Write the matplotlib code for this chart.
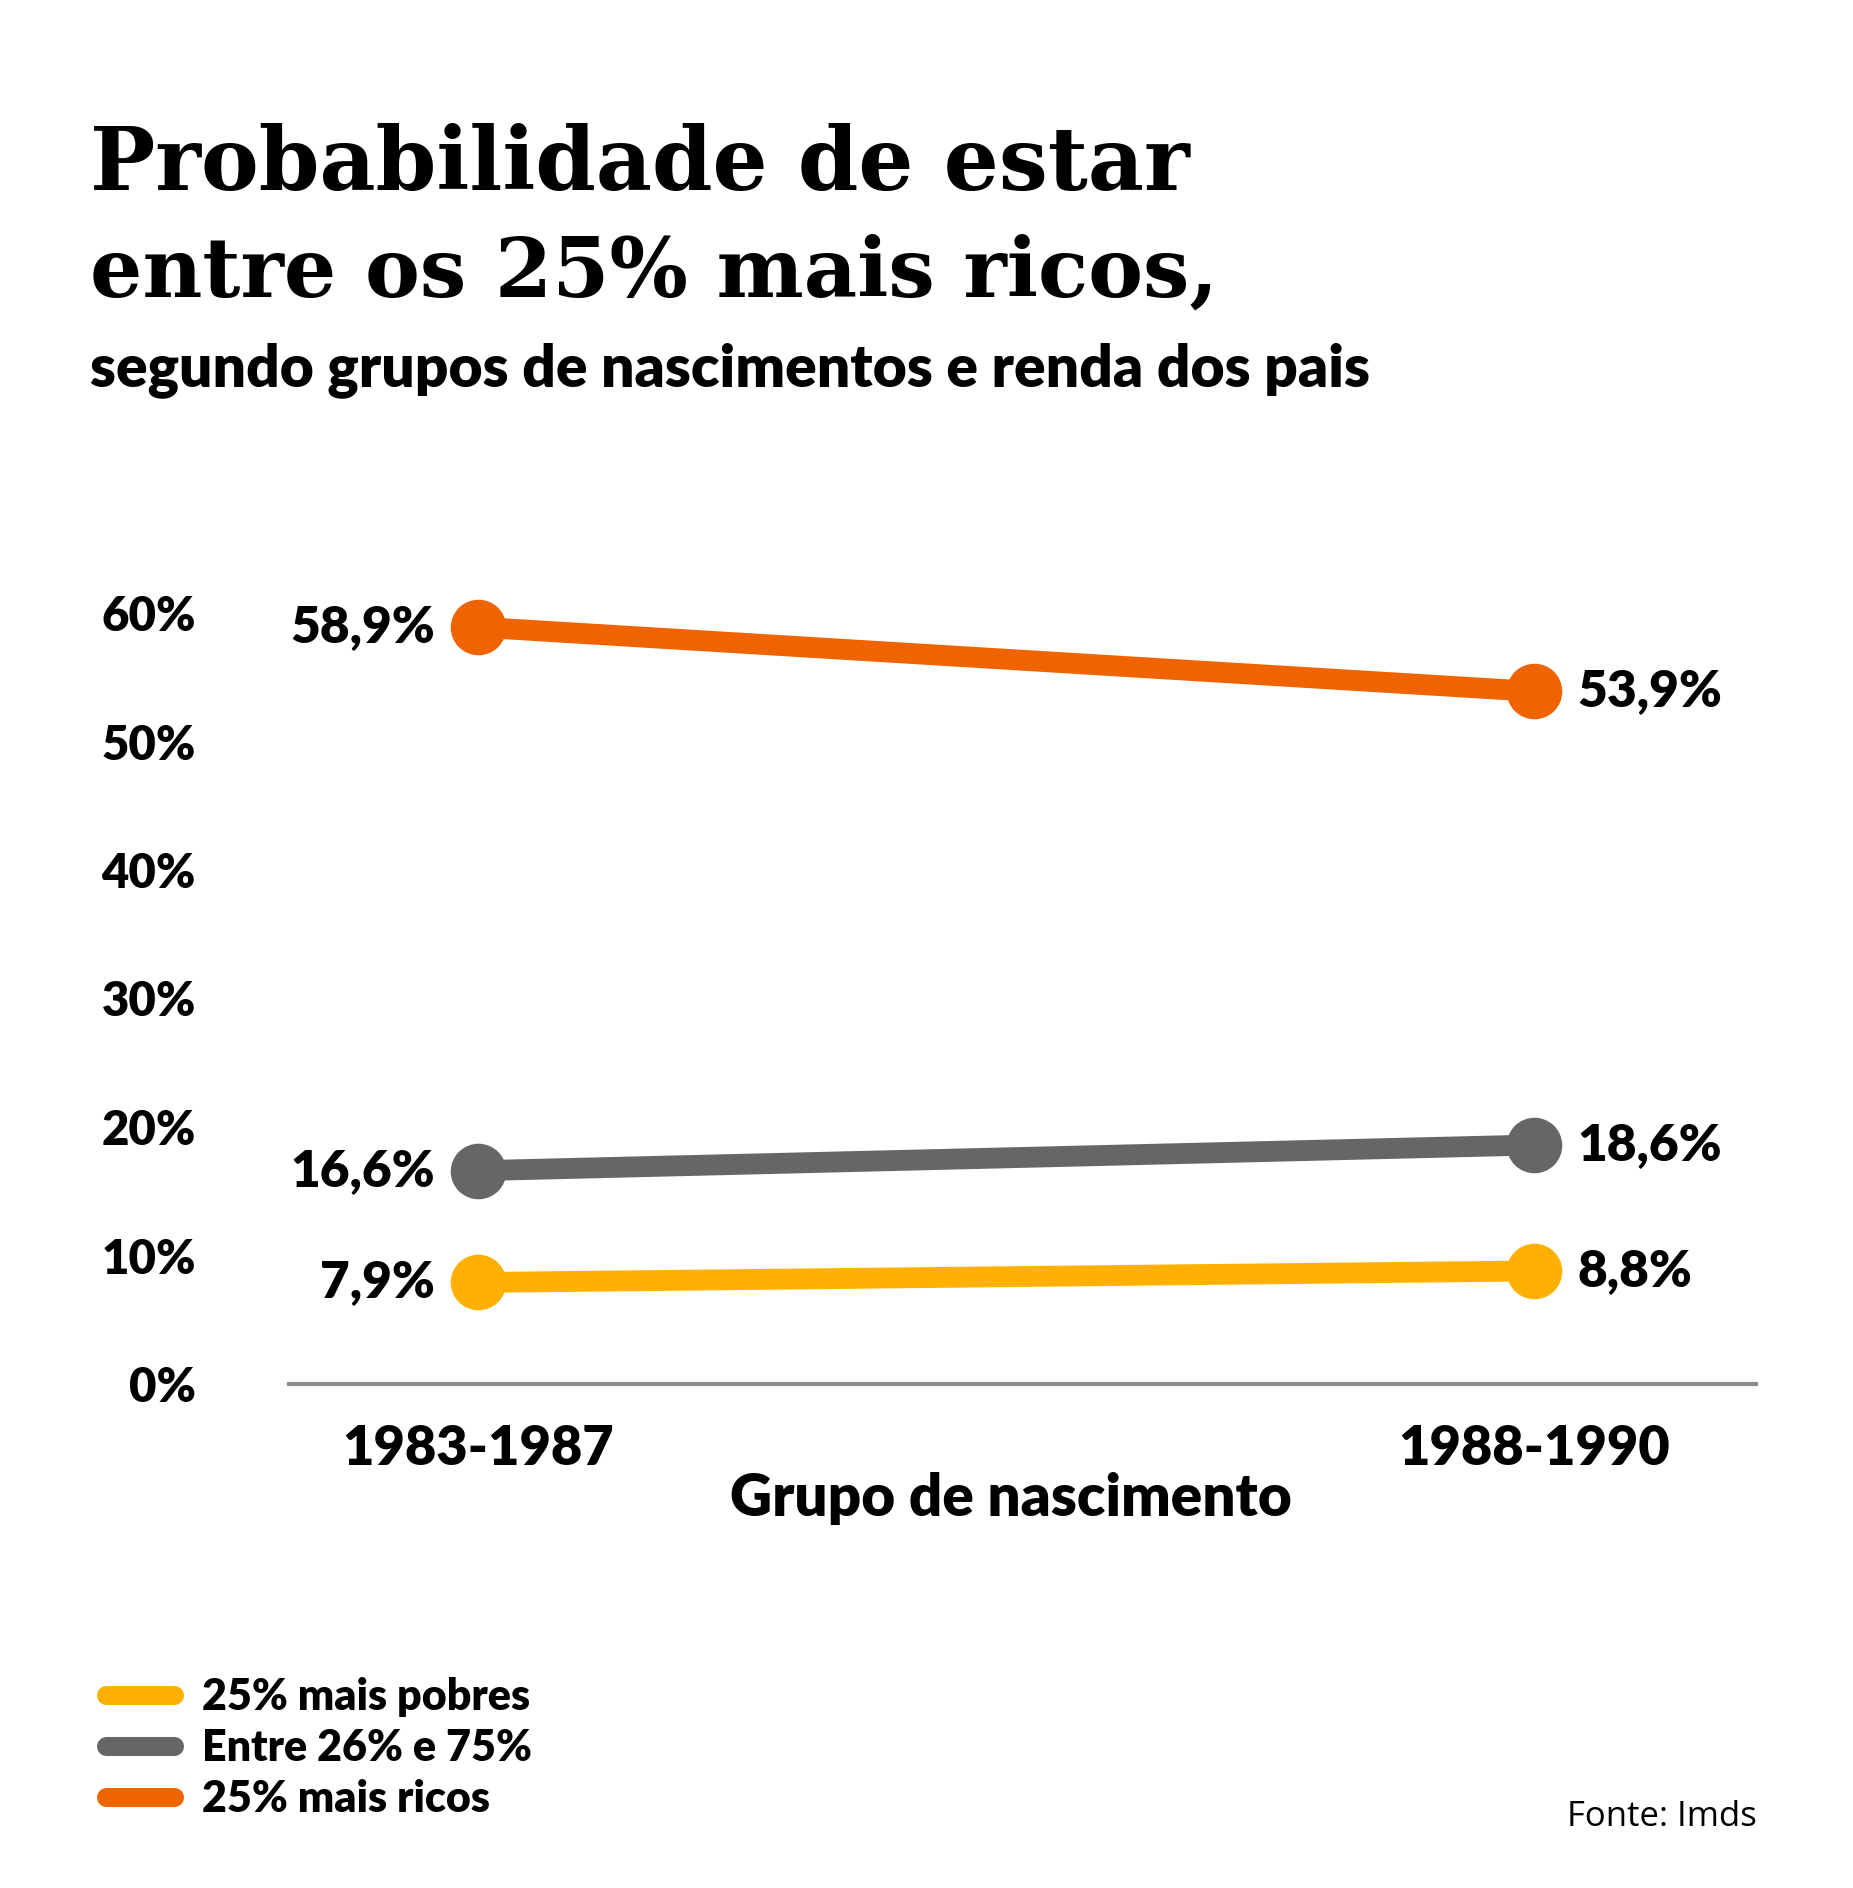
import matplotlib
matplotlib.use('Agg')
import matplotlib.pyplot as plt
from matplotlib.lines import Line2D

# dados
grupos = ['1983-1987', '1988-1990']
pobres = [7.9, 8.8]
meio = [16.6, 18.6]
ricos = [58.9, 53.9]
nomes = ['25% mais pobres', 'Entre 26% e 75%', '25% mais ricos']
cores = ['#FFB000', '#666666', '#F06400']
yticks = [0, 10, 20, 30, 40, 50, 60]

W, H = 1853, 1888
fig = plt.figure(figsize=(W / 100, H / 100), dpi=100)
fig.patch.set_facecolor('white')

sans = 'Lato'
serif = 'DejaVu Serif'
peso = 'heavy'

# eixo: 0% em y=1384 px, 12.85 px por ponto percentual
ax = fig.add_axes([287 / W, (H - 1409.7) / H, 1471 / W, 848.1 / H])
ax.set_xlim(-0.1809, 1.2121)
ax.set_ylim(-2, 64)
for s in ax.spines.values():
    s.set_visible(False)

x = [0, 1]
for vals, cor in zip([pobres, meio, ricos], cores):
    ax.plot(x, vals, color=cor, lw=15, marker='o', ms=39,
            solid_capstyle='round', zorder=3)
    ax.annotate(f'{vals[0]:.1f}%'.replace('.', ','), (0, vals[0]),
                xytext=(-31, 0), textcoords='offset points',
                ha='right', va='center', fontsize=37,
                family=sans, weight=peso)
    ax.annotate(f'{vals[1]:.1f}%'.replace('.', ','), (1, vals[1]),
                xytext=(31, 0), textcoords='offset points',
                ha='left', va='center', fontsize=37,
                family=sans, weight=peso)

ax.axhline(0, color='#8a8a8a', lw=3, zorder=1)

ax.set_yticks(yticks, labels=[f'{v}%' for v in yticks])
ax.set_xticks(x, labels=grupos)
ax.tick_params(axis='y', length=0, pad=65.5)
ax.tick_params(axis='x', length=0, pad=10)
for lab in ax.get_yticklabels():
    lab.set_fontsize(34)
    lab.set_family(sans)
    lab.set_weight(peso)
for lab in ax.get_xticklabels():
    lab.set_fontsize(39)
    lab.set_family(sans)
    lab.set_weight(peso)

ax.set_xlabel('Grupo de nascimento', fontsize=42, family=sans, weight=peso)
ax.xaxis.set_label_coords((1011 - 287) / 1471, (1409.7 - 1472) / 848.1)

# titulo
r = fig.canvas.get_renderer()
t1 = fig.text(90 / W, (H - 190) / H, 'Probabilidade de estar', ha='left',
              va='baseline', fontsize=60, family=serif, weight='bold')
t1.set_fontsize(60 * 1100 / t1.get_window_extent(r).width)
t2 = fig.text(90 / W, (H - 297) / H, 'entre os 25% mais ricos,', ha='left',
              va='baseline', fontsize=60, family=serif, weight='bold')
t2.set_fontsize(60 * 1129 / t2.get_window_extent(r).width)
sub = fig.text(90 / W, (H - 386) / H,
               'segundo grupos de nascimentos e renda dos pais', ha='left',
               va='baseline', fontsize=30, family=sans, weight=peso)
sub.set_fontsize(30 * 1277 / sub.get_window_extent(r).width)

# legenda
handles = [Line2D([0], [0], color=c, lw=13.7, solid_capstyle='round')
           for c in cores]
fig.legend(handles, nomes, loc='upper left',
           bbox_to_anchor=(105.5 / W, (H - 1677) / H), frameon=False,
           borderpad=0, borderaxespad=0, handlelength=1.58,
           handletextpad=0.66, labelspacing=0.26,
           prop={'family': sans, 'weight': peso, 'size': 31})

fig.text(1757 / W, (H - 1826) / H, 'Fonte: Imds', ha='right', va='baseline',
         fontsize=25, family='Open Sans')

fig.savefig('out.png', dpi=100, facecolor='white')
